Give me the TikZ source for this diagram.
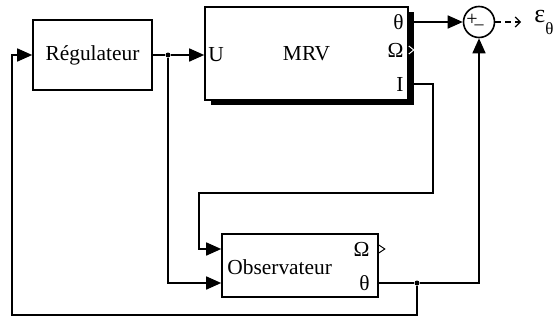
\documentclass[tikz,border=0pt]{standalone}
\usepackage{fontspec}
\setmainfont{Liberation Serif}
\usetikzlibrary{positioning,arrows.meta,calc,shadows}

\begin{document}
\begin{tikzpicture}[x=0.5pt, y=-0.5pt, font=\fontsize{10.7}{12}\selectfont,
  blok/.style={draw, line width=0.8pt, fill=white, inner sep=0pt},
  port/.style={inner sep=1pt},
  wire/.style={line width=0.8pt},
  feed/.style={wire, -{Triangle[length=7.5pt,width=6.5pt]}},
  splitdot/.style={circle, fill, inner sep=0pt, minimum size=2.5pt}]
\useasboundingbox (0,0) rectangle (560,321);
\node[blok, minimum width=59.5pt, minimum height=35pt] (reg) at (92.5,55) {Régulateur};
\node[blok, minimum width=101.5pt, minimum height=46.5pt, drop shadow={shadow xshift=3pt, shadow yshift=-2.5pt, fill=black, opacity=1}] (mrv) at (306.5,53.5) {MRV};
\node[port, anchor=west] (mrvU) at (206,55) {U};
\node[port, anchor=east] (mrvTh) at (406,22) {θ};
\node[port, anchor=east] (mrvOm) at (406,50) {Ω};
\node[port, anchor=east] (mrvI) at (406,84) {I};
\node[blok, minimum width=78pt, minimum height=31.5pt] (obs) at (300,265.5) {};
\node[port, anchor=west] (obsTxt) at (225,267) {Observateur};
\node[port, anchor=east] (obsOm) at (372,249) {Ω};
\node[port, anchor=east] (obsTh) at (372,283) {θ};
\node[circle, draw, wire, minimum size=15.5pt, inner sep=0pt] (sum) at (479,22) {};
\node[inner sep=0pt, font=\fontsize{10}{10}\selectfont] (sumP) at (472,20) {+};
\node[inner sep=0pt, font=\fontsize{9}{9}\selectfont] (sumM) at (479,25) {\textunderscore};
\node[inner sep=0pt, anchor=west] (eps) at (534,22) {\fontsize{13}{13}\selectfont ε\raisebox{-6pt}{\fontsize{8.5}{8.5}\selectfont θ}};
\coordinate (epsIn) at (521,22);
\node[splitdot] (jU) at (168,55) {};
\node[splitdot] (jTh) at (417,283) {};
\coordinate (bendI) at (433,193);
\coordinate (bendO) at (199,193);
\coordinate (loopR) at (417,315);
\coordinate (loopL) at (12,315);
\draw[wire] (reg.east |- jU) -- (jU);
\draw[feed] (jU) -- (jU -| mrv.west);
\draw[feed] (jU) |- (obsTh -| obs.west);
\draw[feed] (mrvTh -| mrv.east) -- (sum.west);
\draw[line width=0.6pt, dash pattern=on 3pt off 2pt, -{Straight Barb[length=2.5pt,width=5pt]}] (sum.east) -- (epsIn);
\draw[feed] (mrvI -| mrv.east) -| (bendI) -- (bendO) |- (obsOm -| obs.west);
\draw[wire] (obsTh -| obs.east) -- (jTh);
\draw[feed] (jTh) -| (sum.south);
\draw[feed] (jTh) -- (loopR) -- (loopL) |- (reg.west);
\draw[white, line width=0.5pt] (mrvOm -| mrv.east) ++(0,-4) -- ++(5,4) -- ++(-5,4);
\draw[line width=0.5pt] (obsOm -| obs.east) ++(0,-4) -- ++(6,4) -- ++(-6,4);
\end{tikzpicture}
\end{document}
